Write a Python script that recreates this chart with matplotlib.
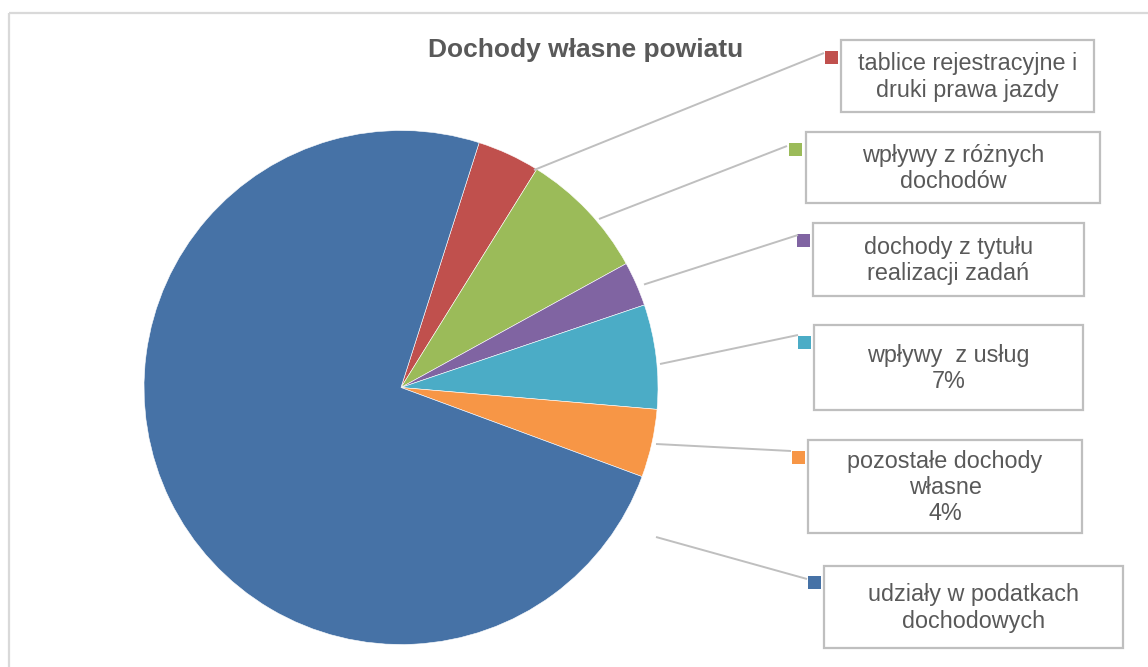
import matplotlib
matplotlib.use("Agg")
import matplotlib.pyplot as plt
from matplotlib.patches import Rectangle

# ── data ──────────────────────────────────────────────────────────────────────
categories = [
    "tablice rejestracyjne i\ndruki prawa jazdy",
    "wpływy z różnych\ndochodów",
    "dochody z tytułu\nrealizacji zadań",
    "wpływy  z usług",
    "pozostałe dochody\nwłasne",
    "udziały w podatkach\ndochodowych",
]
shares = [3.94, 8.14, 2.80, 6.56, 4.28, 74.28]   # % of own revenue
show_pct = [False, False, False, True, True, False]
colors = ["#C0504D", "#9BBB59", "#8064A2", "#4BACC6", "#F79646", "#4672A6"]
title = "Dochody własne powiatu"

# ── layout (image pixels) ─────────────────────────────────────────────────────
W, H = 1148, 667
TEXT = "#595959"; LINE = "#BFBFBF"; FRAME = "#D9D9D9"
CENTER = (401, 387.5); RADIUS = 257
boxes = [  # x0, y0, x1, y1
    (841, 40, 1094, 112), (806, 132, 1100, 203), (813, 223, 1084, 296),
    (814, 325, 1083, 410), (808, 440, 1082, 533), (824, 566, 1123, 648),
]
markers = [(825, 51), (789, 143), (797, 234), (798, 336), (792, 451), (808, 576)]
leaders = [
    ((534, 170), (824, 53)), ((599, 219), (787, 146)), ((644, 284.5), (798, 235)),
    ((660, 364), (798, 335)), ((656, 444), (791, 451)), ((656, 537), (807, 579)),
]

plt.rcParams["font.family"] = ["Liberation Sans", "DejaVu Sans"]

fig = plt.figure(figsize=(W / 100, H / 100), dpi=100)
ax = fig.add_axes([0, 0, 1, 1])
ax.set_xlim(0, W); ax.set_ylim(H, 0)
ax.set_aspect("equal")
ax.axis("off")

# outer chart frame (runs off right/bottom edge)
ax.add_patch(Rectangle((8.5, 12.5), W, H, fill=False, ec=FRAME, lw=1.6))

# pie (y axis inverted -> counterclock=True gives visual clockwise)
ax.pie(shares, colors=colors, center=CENTER, radius=RADIUS,
       startangle=-72.3, counterclock=True,
       wedgeprops=dict(linewidth=0.4, edgecolor="white"))
ax.set_xlim(0, W); ax.set_ylim(H, 0)

ax.text(586, 57, title, ha="center", va="baseline", fontsize=19,
        fontweight="bold", color=TEXT)

total = sum(shares)
for i, lab in enumerate(categories):
    (x0, y0), (x1, y1) = leaders[i]
    ax.plot([x0, x1], [y0, y1], color=LINE, lw=1.4, solid_capstyle="butt")
    mx, my = markers[i]
    ax.add_patch(Rectangle((mx, my), 13, 13, color=colors[i], lw=0))
    bx0, by0, bx1, by1 = boxes[i]
    ax.add_patch(Rectangle((bx0, by0), bx1 - bx0, by1 - by0, fill=False,
                           ec=LINE, lw=1.6))
    txt = lab
    if show_pct[i]:
        txt += f"\n{round(shares[i] / total * 100)}%"
    ax.text((bx0 + bx1) / 2, (by0 + by1) / 2 + 1, txt, ha="center", va="center",
            fontsize=16.8, color=TEXT, linespacing=1.17)

fig.savefig("out.png", dpi=100, facecolor="white")
